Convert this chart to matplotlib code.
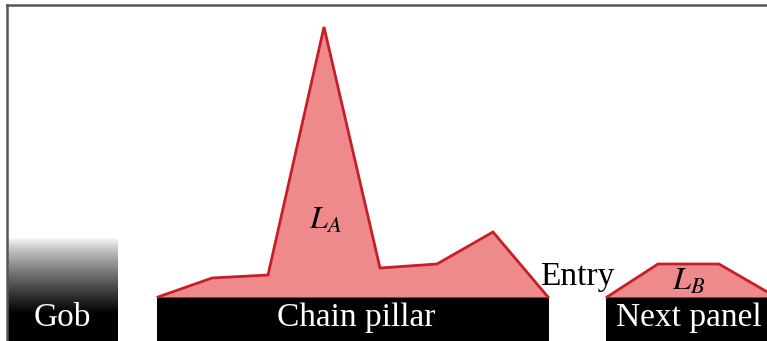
import numpy as np
import matplotlib.pyplot as plt

plt.rcParams['font.family'] = ['Liberation Serif', 'DejaVu Serif']
plt.rcParams['mathtext.fontset'] = 'stix'

# stress profile over the chain pillar (x position, height above pillar top)
la_x = [158, 212, 268, 324, 380, 437, 493, 548]
la_h = [0, 19, 22, 270, 29, 33, 65, 0]

# stress profile over the next panel
lb_x = [607, 658, 719, 776]
lb_h = [0, 33, 33, 0]

# strata blocks: name, left, right
blocks = ['Gob', 'Chain pillar', 'Next panel']
block_left = [7, 157, 606]
block_right = [118, 549, 780]
block_top = 44
gob_top = 104

W, H = 767, 341
fig = plt.figure(figsize=(W / 100, H / 100), dpi=100)
ax = fig.add_axes([7 / W, 0, 1 - 7 / W, (H - 5) / H])
ax.set_xlim(7, W)
ax.set_ylim(0, H - 5)
ax.set_xticks([])
ax.set_yticks([])
for s in ['right', 'bottom']:
    ax.spines[s].set_visible(False)
for s in ['left', 'top']:
    ax.spines[s].set_color('#555555')
    ax.spines[s].set_linewidth(1.8)

# gob: gradient from white (top) to black
grad = np.linspace(0, 1, 100).reshape(-1, 1)
ax.imshow(1 - np.clip(grad * 1.35, 0, 1) ** 0.8, cmap='gray', vmin=0, vmax=1,
          extent=[block_left[0], block_right[0], 0, gob_top], origin='upper',
          aspect='auto', zorder=1)

for name, l, r in zip(blocks[1:], block_left[1:], block_right[1:]):
    ax.fill_between([l, r], 0, block_top, color='black', lw=0, zorder=2)

# stress areas
for xs, hs in [(la_x, la_h), (lb_x, lb_h)]:
    ys = [block_top + h for h in hs]
    ax.fill_between(xs, block_top, ys, color='#EE8A8C', lw=0, zorder=3)
    ax.plot(xs, ys, color='#C81E28', lw=2.0, zorder=4, solid_joinstyle='miter')

fs = 24
ax.text(62, 23, 'Gob', color='white', fontsize=fs, ha='center', va='center', zorder=5)
ax.text(356, 23, 'Chain pillar', color='white', fontsize=fs, ha='center', va='center', zorder=5)
ax.text(689, 23, 'Next panel', color='white', fontsize=fs, ha='center', va='center', zorder=5)
ax.text(577, 64, 'Entry', color='black', fontsize=fs, ha='center', va='center', zorder=5)
ax.text(325, 120, '$L_A$', fontsize=23, ha='center', va='center', zorder=5)
ax.text(689, 59, '$L_B$', fontsize=23, ha='center', va='center', zorder=5)

fig.savefig('out.png', dpi=100)
